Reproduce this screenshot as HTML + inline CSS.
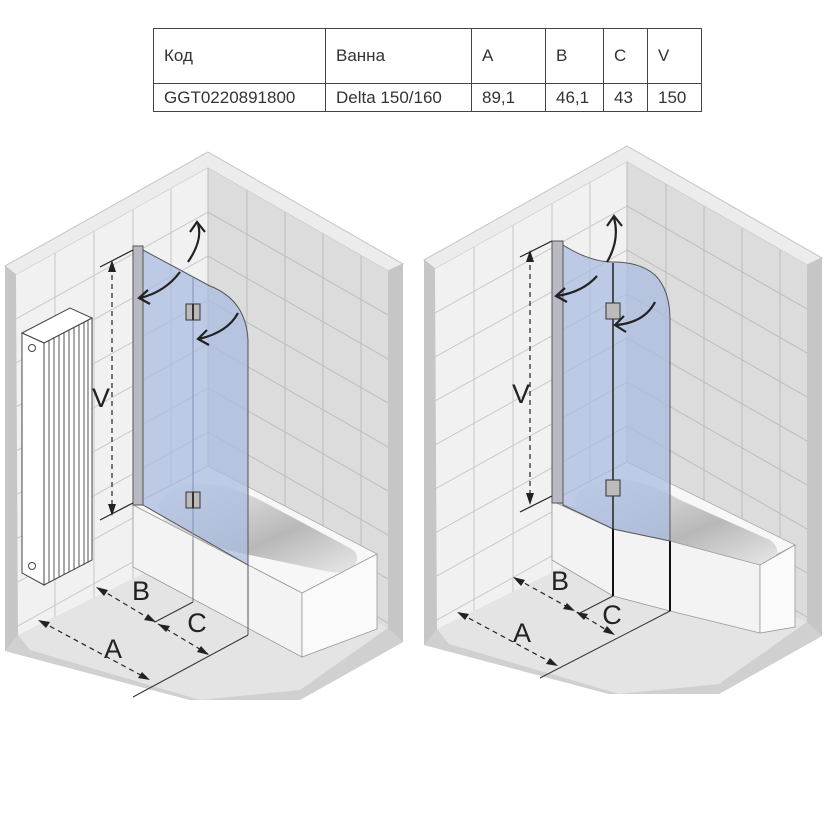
<!DOCTYPE html>
<html><head><meta charset="utf-8"><style>
body{margin:0;background:#fff;width:826px;height:826px;overflow:hidden;font-family:"Liberation Sans",sans-serif}
table{position:absolute;left:153px;top:28px;border-collapse:collapse;font-size:17px;color:#333;table-layout:fixed;width:548px}
td{border:1px solid #444;padding:0 0 0 10px;text-align:left;overflow:hidden;white-space:nowrap}
tr.h td{height:54px}
tr.d td{height:27px}
</style></head><body>
<table>
<colgroup><col style="width:172px"><col style="width:146px"><col style="width:74px"><col style="width:58px"><col style="width:44px"><col style="width:54px"></colgroup>
<tr class="h"><td>Код</td><td>Ванна</td><td>A</td><td>B</td><td>C</td><td>V</td></tr>
<tr class="d"><td>GGT0220891800</td><td>Delta 150/160</td><td>89,1</td><td>46,1</td><td>43</td><td>150</td></tr>
</table>
<svg width="826" height="826" style="position:absolute;left:0;top:0">
<defs>
<clipPath id="lw"><polygon points="16,275 208,168 208,542 18,635"/></clipPath>
<clipPath id="rw"><polygon points="208,168 388,271 388,628 208,542"/></clipPath>
<linearGradient id="basin" x1="0" y1="0" x2="1" y2="1"><stop offset="0" stop-color="#f4f4f4"/><stop offset=".6" stop-color="#b8b8b8"/><stop offset="1" stop-color="#e8e8e8"/></linearGradient>
<g id="room">
<polygon points="208,152 403,264 403,642 300,700 190,700 5,651 5,266" fill="#d4d4d4"/>
<polygon points="208,152 403,264 388,271 208,168 16,275 5,266" fill="#ececec" stroke="#c4c4c4" stroke-width="1"/>
<polygon points="5,266 16,275 18,635 5,651" fill="#c6c6c6"/>
<polygon points="403,264 388,271 388,628 403,642" fill="#c6c6c6"/>
<polygon points="18,635 208,542 388,628 403,642 300,700 190,700 5,651" fill="#d0d0d0"/>
<polygon points="18,635 208,542 388,628 300,690 200,700 30,650" fill="#e4e4e4"/>
<polygon points="16,275 208,168 208,542 18,635" fill="#f1f1f1"/>
<polygon points="208,168 388,271 388,628 208,542" fill="#dcdcdc"/>
<g clip-path="url(#lw)" stroke="#c8c8c8" stroke-width="1">
<line x1="55" y1="200" x2="55" y2="700"/><line x1="94" y1="180" x2="94" y2="700"/><line x1="133" y1="160" x2="133" y2="700"/><line x1="171" y1="150" x2="171" y2="700"/>
<line x1="16" y1="319" x2="208" y2="212"/><line x1="16" y1="363" x2="208" y2="256"/><line x1="16" y1="407" x2="208" y2="300"/><line x1="16" y1="451" x2="208" y2="344"/><line x1="16" y1="495" x2="208" y2="388"/><line x1="16" y1="539" x2="208" y2="432"/><line x1="16" y1="583" x2="208" y2="476"/><line x1="16" y1="627" x2="208" y2="520"/>
</g>
<g clip-path="url(#rw)" stroke="#bdbdbd" stroke-width="1">
<line x1="247" y1="150" x2="247" y2="700"/><line x1="285" y1="150" x2="285" y2="700"/><line x1="323" y1="150" x2="323" y2="700"/><line x1="361" y1="150" x2="361" y2="700"/>
<line x1="208" y1="212" x2="388" y2="315"/><line x1="208" y1="256" x2="388" y2="359"/><line x1="208" y1="300" x2="388" y2="403"/><line x1="208" y1="344" x2="388" y2="447"/><line x1="208" y1="388" x2="388" y2="491"/><line x1="208" y1="432" x2="388" y2="535"/><line x1="208" y1="476" x2="388" y2="579"/><line x1="208" y1="520" x2="388" y2="623"/>
</g>
<line x1="208" y1="168" x2="208" y2="542" stroke="#bbb"/>
</g>
</defs>

<use href="#room"/>
<polygon points="44,343 92,318 92,560 44,585" fill="#fff" stroke="#444" stroke-width="1"/>
<g stroke="#555" stroke-width="1">
<line x1="49" y1="340" x2="49" y2="582"/><line x1="54" y1="338" x2="54" y2="580"/><line x1="59" y1="335" x2="59" y2="577"/><line x1="64" y1="333" x2="64" y2="575"/><line x1="69" y1="330" x2="69" y2="572"/><line x1="74" y1="327" x2="74" y2="570"/><line x1="79" y1="325" x2="79" y2="567"/><line x1="84" y1="322" x2="84" y2="565"/><line x1="88" y1="320" x2="88" y2="563"/>
</g>
<polygon points="22,333 70,308 92,318 44,343" fill="#fff" stroke="#444"/>
<polygon points="22,333 44,343 44,585 22,573" fill="#fff" stroke="#444"/>
<circle cx="32" cy="348" r="3.5" fill="none" stroke="#444"/><circle cx="32" cy="566" r="3.5" fill="none" stroke="#444"/>
<polygon points="133,505 208,466 377,554 302,593" fill="#f7f7f7" stroke="#aaa" stroke-width=".8"/>
<path d="M158,505 C170,480 210,475 260,500 L350,548 C365,556 355,575 330,572 L250,555 C200,545 160,530 158,505Z" fill="url(#basin)"/>
<polygon points="133,505 302,593 302,657 133,567" fill="#f3f3f3" stroke="#999" stroke-width=".8"/>
<polygon points="302,593 377,554 377,629 302,657" fill="#fafafa" stroke="#999" stroke-width=".8"/>
<line x1="193" y1="536" x2="193" y2="602" stroke="#777"/><line x1="248" y1="565" x2="248" y2="635" stroke="#555"/>
<line x1="193" y1="602" x2="155" y2="622" stroke="#333"/><line x1="248" y1="635" x2="133" y2="697" stroke="#333"/>
<path d="M143,250 L210,286 Q246,300 248,340 L248,565 L143,505Z" fill="#a9bce0" fill-opacity=".75" stroke="#555" stroke-width="1"/>
<line x1="193" y1="276" x2="193" y2="540" stroke="#7f90b8"/>
<rect x="133" y="246" width="10" height="259" fill="#b9b9c4" stroke="#555"/>
<rect x="186" y="304" width="14" height="16" fill="#bbb" stroke="#333"/><line x1="193" y1="304" x2="193" y2="320" stroke="#333" stroke-width="2"/>
<rect x="186" y="492" width="14" height="16" fill="#bbb" stroke="#333"/><line x1="193" y1="492" x2="193" y2="508" stroke="#333" stroke-width="2"/>
<g fill="none" stroke="#222" stroke-width="2.2">
<path d="M188,262 Q203,240 198,224"/><path d="M190,232 L197,222 L205,232"/>
<path d="M180,272 Q165,292 140,298"/><path d="M148,290 L139,298 L150,304"/>
<path d="M238,313 Q228,332 199,339"/><path d="M207,330 L198,339 L209,345"/>
</g>
<g stroke="#222" stroke-width="1.2" fill="none">
<line x1="100" y1="267" x2="133" y2="250"/><line x1="100" y1="520" x2="133" y2="503"/>
<line x1="112" y1="266" x2="112" y2="512" stroke-dasharray="5,4"/>
<line x1="100" y1="589" x2="155" y2="622" stroke-dasharray="5,4"/>
<line x1="158" y1="624" x2="208" y2="654" stroke-dasharray="5,4"/>
<line x1="42" y1="622" x2="148" y2="679" stroke-dasharray="5,4"/>
</g>
<g fill="#222">
<polygon points="112,260 108,272 116,272"/><polygon points="112,516 108,504 116,504"/>
<polygon points="96,587 108,590 104,596"/><polygon points="156,622 144,620 148,614"/>
<polygon points="158,624 170,626 166,632"/><polygon points="209,655 197,652 201,646"/>
<polygon points="38,620 50,622 46,628"/><polygon points="150,680 138,678 142,672"/>
</g>
<g font-size="27" fill="#222" text-anchor="middle">
<text x="101" y="407">V</text><text x="141" y="600">B</text><text x="197" y="632">C</text><text x="113" y="658">A</text>
</g>

<use href="#room" transform="translate(419,-6)"/>
<polygon points="552,501 627,462 795,545 757,565" fill="#f7f7f7" stroke="#aaa" stroke-width=".8"/>
<path d="M575,500 C585,475 625,468 680,500 L770,540 C785,550 775,568 750,566 L660,545 C610,532 575,520 575,500Z" fill="url(#basin)"/>
<polygon points="552,501 613,529 670,541 760,565 760,633 670,611 613,596 552,560" fill="#f3f3f3" stroke="#999" stroke-width=".8"/>
<polygon points="760,565 795,545 795,627 760,633" fill="#fafafa" stroke="#999" stroke-width=".8"/>
<line x1="613" y1="529" x2="613" y2="596" stroke="#111" stroke-width="2"/><line x1="670" y1="541" x2="670" y2="611" stroke="#111" stroke-width="2"/>
<line x1="613" y1="596" x2="578" y2="614" stroke="#333"/><line x1="670" y1="611" x2="540" y2="678" stroke="#333"/>
<path d="M563,245 Q590,262 613,262 Q640,262 655,275 Q670,290 670,320 L670,541 L613,529 L563,505Z" fill="#a9bce0" fill-opacity=".75" stroke="#555" stroke-width="1"/>
<line x1="613" y1="263" x2="613" y2="530" stroke="#222" stroke-width="1.5"/>
<rect x="552" y="241" width="11" height="262" fill="#b9b9c4" stroke="#555"/>
<rect x="606" y="303" width="14" height="16" fill="#bbb" stroke="#333"/><rect x="606" y="480" width="14" height="16" fill="#bbb" stroke="#333"/>
<g fill="none" stroke="#222" stroke-width="2.2">
<path d="M607,262 Q620,240 614,218"/><path d="M607,226 L614,216 L622,226"/>
<path d="M597,276 Q583,292 557,296"/><path d="M565,288 L556,296 L567,302"/>
<path d="M655,302 Q645,322 617,325"/><path d="M624,316 L615,325 L626,332"/>
</g>
<g stroke="#222" stroke-width="1.2" fill="none">
<line x1="520" y1="257" x2="552" y2="241"/><line x1="520" y1="512" x2="552" y2="496"/>
<line x1="530" y1="256" x2="530" y2="500" stroke-dasharray="5,4"/>
<line x1="517" y1="579" x2="573" y2="610" stroke-dasharray="5,4"/>
<line x1="577" y1="612" x2="613" y2="634" stroke-dasharray="5,4"/>
<line x1="461" y1="614" x2="556" y2="665" stroke-dasharray="5,4"/>
</g>
<g fill="#222">
<polygon points="530,250 526,262 534,262"/><polygon points="530,505 526,493 534,493"/>
<polygon points="513,577 525,580 521,586"/><polygon points="575,611 563,609 567,603"/>
<polygon points="576,612 588,614 584,620"/><polygon points="615,635 603,632 607,626"/>
<polygon points="457,612 469,614 465,620"/><polygon points="558,666 546,664 550,658"/>
</g>
<g font-size="27" fill="#222" text-anchor="middle">
<text x="521" y="403">V</text><text x="560" y="590">B</text><text x="612" y="624">C</text><text x="522" y="642">A</text>
</g>
</svg>
</body></html>
